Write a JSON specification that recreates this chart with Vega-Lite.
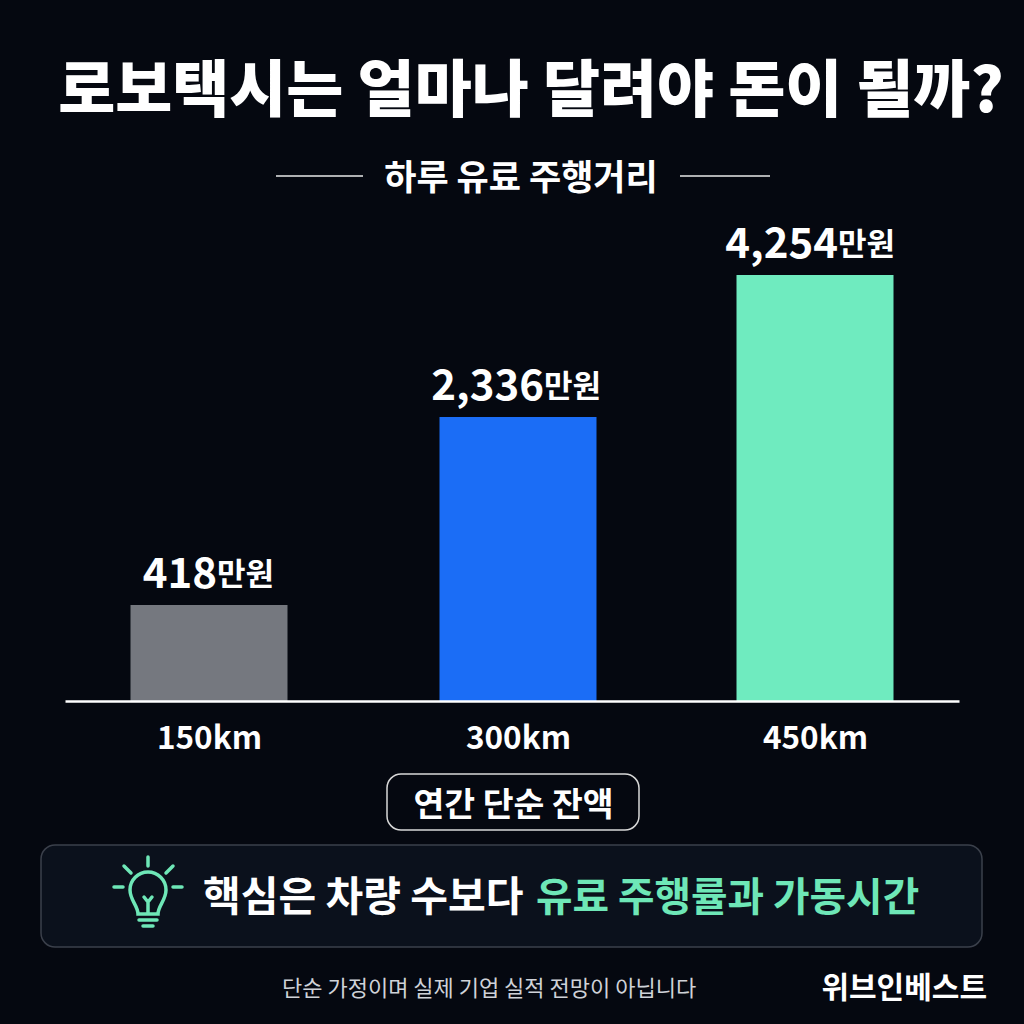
{
"$schema":"https://vega.github.io/schema/vega-lite/v6.json",
"width":1024,"height":1024,"autosize":"none","padding":0,
"background":"#050810",
"view":{"stroke":null},
"config":{"text":{"font":"Noto Sans CJK KR","fontWeight":"bold","color":"#ffffff","baseline":"middle"}},
"resolve":{"scale":{"x":"independent","y":"independent"},"axis":{"x":"independent","y":"independent"}},
"layer":[
{"layer":[
{"data":{"values":[{"t":"로보택시는 얼마나 달려야 돈이 될까?"}]},"mark":{"type":"text","align":"center","fontSize":62,"fontWeight":900},
 "encoding":{"text":{"field":"t"},"x":{"datum":531,"scale":{"domain":[0,1024],"range":[0,1024]},"axis":null},"y":{"datum":93,"scale":{"domain":[0,1024],"range":[0,1024]},"axis":null}}},
{"data":{"values":[{"t":"하루 유료 주행거리"}]},"mark":{"type":"text","align":"center","fontSize":35},
 "encoding":{"text":{"field":"t"},"x":{"datum":521,"scale":{"domain":[0,1024],"range":[0,1024]},"axis":null},"y":{"datum":179,"scale":{"domain":[0,1024],"range":[0,1024]},"axis":null}}},
{"data":{"values":[{"s":"left"}]},"mark":{"type":"rule","color":"#e8e8e8","strokeWidth":1.5},
 "encoding":{"x":{"datum":276,"scale":{"domain":[0,1024],"range":[0,1024]},"axis":null},"x2":{"datum":363},"y":{"datum":176,"scale":{"domain":[0,1024],"range":[0,1024]},"axis":null}}},
{"data":{"values":[{"s":"right"}]},"mark":{"type":"rule","color":"#e8e8e8","strokeWidth":1.5},
 "encoding":{"x":{"datum":680,"scale":{"domain":[0,1024],"range":[0,1024]},"axis":null},"x2":{"datum":770},"y":{"datum":176,"scale":{"domain":[0,1024],"range":[0,1024]},"axis":null}}},
{"data":{"values":[{"s":"pill"}]},"mark":{"type":"rect","fill":"#050810","stroke":"#d8d8d8","strokeWidth":1.5,"cornerRadius":14},
 "encoding":{"x":{"datum":387,"scale":{"domain":[0,1024],"range":[0,1024]},"axis":null},"x2":{"datum":639},"y":{"datum":774,"scale":{"domain":[0,1024],"range":[0,1024]},"axis":null},"y2":{"datum":830}}},
{"data":{"values":[{"t":"연간 단순 잔액"}]},"mark":{"type":"text","align":"center","fontSize":33.5},
 "encoding":{"text":{"field":"t"},"x":{"datum":513.5,"scale":{"domain":[0,1024],"range":[0,1024]},"axis":null},"y":{"datum":806,"scale":{"domain":[0,1024],"range":[0,1024]},"axis":null}}},
{"data":{"values":[{"s":"callout"}]},"mark":{"type":"rect","fill":"#0b111c","stroke":"#3b404b","strokeWidth":1.5,"cornerRadius":14},
 "encoding":{"x":{"datum":41,"scale":{"domain":[0,1024],"range":[0,1024]},"axis":null},"x2":{"datum":982},"y":{"datum":845,"scale":{"domain":[0,1024],"range":[0,1024]},"axis":null},"y2":{"datum":947}}},
{"data":{"values":[{"s":"bulb"}]},"mark":{"type":"point","filled":false,"stroke":"#6EE7B7","strokeWidth":3.5,"strokeCap":"round","opacity":1,"size":4,
  "shape":"M0,-33V-24M-24,-24L-17,-17M25,-24L18,-17M-34,-3H-25M25,-3H34M-10,24C-10,16 -18,10 -18,0A18,18 0 1 1 18,0C18,10 10,16 10,24ZM-9,30H9M-5,36H5M-4,7L0,12L4,7M0,12V24"},
 "encoding":{"x":{"datum":148,"scale":{"domain":[0,1024],"range":[0,1024]},"axis":null},"y":{"datum":890,"scale":{"domain":[0,1024],"range":[0,1024]},"axis":null}}},
{"data":{"values":[{"t":"핵심은 차량 수보다"}]},"mark":{"type":"text","align":"left","fontSize":41},
 "encoding":{"text":{"field":"t"},"x":{"datum":203,"scale":{"domain":[0,1024],"range":[0,1024]},"axis":null},"y":{"datum":899,"scale":{"domain":[0,1024],"range":[0,1024]},"axis":null}}},
{"data":{"values":[{"t":"유료 주행률과 가동시간"}]},"mark":{"type":"text","align":"left","fontSize":39.7,"color":"#6EE7B7"},
 "encoding":{"text":{"field":"t"},"x":{"datum":536,"scale":{"domain":[0,1024],"range":[0,1024]},"axis":null},"y":{"datum":899,"scale":{"domain":[0,1024],"range":[0,1024]},"axis":null}}},
{"data":{"values":[{"t":"단순 가정이며 실제 기업 실적 전망이 아닙니다"}]},"mark":{"type":"text","align":"left","fontSize":22,"fontWeight":"normal","color":"#cfd2d8"},
 "encoding":{"text":{"field":"t"},"x":{"datum":282,"scale":{"domain":[0,1024],"range":[0,1024]},"axis":null},"y":{"datum":989,"scale":{"domain":[0,1024],"range":[0,1024]},"axis":null}}},
{"data":{"values":[{"t":"위브인베스트"}]},"mark":{"type":"text","align":"right","fontSize":30},
 "encoding":{"text":{"field":"t"},"x":{"datum":987,"scale":{"domain":[0,1024],"range":[0,1024]},"axis":null},"y":{"datum":989,"scale":{"domain":[0,1024],"range":[0,1024]},"axis":null}}}
]},
{"data":{"values":[
 {"km":150,"value":418,"label":"418","unit":"만원"},
 {"km":300,"value":2336,"label":"2,336","unit":"만원"},
 {"km":450,"value":4254,"label":"4,254","unit":"만원"}]},
 "encoding":{
  "x":{"field":"km","type":"quantitative","scale":{"domain":[50,150,300,450,550],"range":[65,209,518,815,959]},
   "axis":{"values":[150,300,450],"labelExpr":"datum.value+'km'","title":null,"grid":false,"ticks":false,"offset":-323,"domainColor":"#ffffff","domainWidth":2.5,"labelColor":"#ffffff","labelFont":"Noto Sans CJK KR","labelFontWeight":"bold","labelFontSize":31.5,"labelPadding":22,"labelFlush":false,"zindex":1}},
  "y":{"field":"value","type":"quantitative","scale":{"domain":[0,418,2336,4254],"range":[701,605,417,275]},"axis":null}
 },
 "layer":[
 {"mark":{"type":"bar","size":157},"encoding":{"color":{"field":"km","type":"nominal","legend":null,"scale":{"domain":[150,300,450],"range":["#75787F","#1B6DF6","#6FEBBF"]}}}},
 {"mark":{"type":"text","align":"right","fontSize":42,"dy":-30,"dx":{"expr":"datum.km==150?8:datum.km==300?26:23"}},"encoding":{"text":{"field":"label"}}},
 {"mark":{"type":"text","align":"left","fontSize":31,"dy":-29,"dx":{"expr":"datum.km==150?8:datum.km==300?26:23"}},"encoding":{"text":{"field":"unit"}}}
 ]}
]}
